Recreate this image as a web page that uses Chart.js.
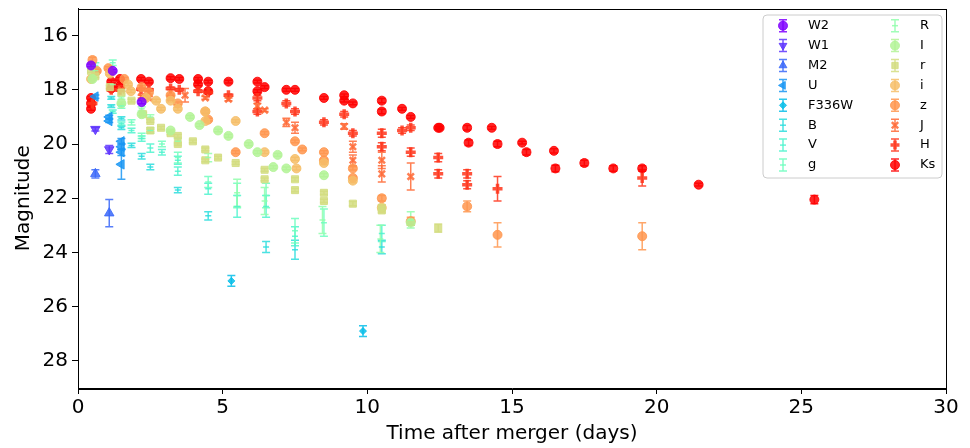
<!DOCTYPE html>
<html><head><meta charset="utf-8">
<script src="https://cdn.jsdelivr.net/npm/chart.js@4.4.1/dist/chart.umd.min.js"></script>
<style>html,body{margin:0;padding:0;background:#fff;}#wrap{width:970px;height:448px;position:relative}</style>
</head><body><div id="wrap"><canvas id="c" width="970" height="448"></canvas></div>
<script>
// ---------- DATA (days after merger, magnitude, 1-sigma error) ----------
const bandNames = ["W2","W1","M2","U","F336W","B","V","g","R","I","r","i","z","J","H","Ks"];
const xTicks = [0,5,10,15,20,25,30];
const yTicks = [16,18,20,22,24,26,28];

const W2_t=[0.45,1.2,2.2];        const W2_mag=[17.1,17.3,18.45];     const W2_err=[0.05,0.05,0.06];
const W1_t=[0.6,1.08];            const W1_mag=[19.45,20.2];          const W1_err=[0.07,0.15];
const M2_t=[0.6,1.08];            const M2_mag=[21.1,22.55];          const M2_err=[0.15,0.5];
const U_t=[0.6,1.08,1.08,1.5,1.5,1.5,1.5];
const U_mag=[18.25,19.0,19.15,19.9,20.1,20.3,20.75];
const U_err=[0.06,0.06,0.06,0.1,0.1,0.12,0.55];
const F336W_t=[5.3,9.85];         const F336W_mag=[25.05,26.9];       const F336W_err=[0.2,0.2];
const B_t=[1.15,1.15,1.5,1.5,1.85,2.2,2.5,3.45,4.5,6.5,7.5,10.5];
const B_mag=[18.3,18.6,19.05,19.4,20.05,20.45,20.85,21.7,22.65,23.8,23.9,23.8];
const B_err=[0.05,0.05,0.06,0.06,0.08,0.1,0.1,0.1,0.15,0.2,0.35,0.25];
const V_t=[1.2,1.5,1.85,2.2,2.5,2.9,3.45,3.45,4.5,5.5,6.5,7.5,10.5];
const V_mag=[18.8,19.25,19.5,19.8,20.15,20.3,20.6,21.0,21.65,22.3,22.3,23.4,23.3];
const V_err=[0.06,0.06,0.08,0.1,0.15,0.1,0.15,0.15,0.2,0.4,0.4,0.35,0.3];
const g_t=[0.6,1.2,1.5,1.85,2.2,2.5,2.9,3.45,4.5,5.5,6.5,7.5,8.5];
const g_mag=[17.1,17.0,18.6,19.2,19.7,19.5,20.0,20.5,21.4,21.9,21.9,23.2,22.9];
const g_err=[0.1,0.1,0.08,0.1,0.1,0.1,0.1,0.2,0.2,0.45,0.45,0.45,0.5];
const R_t=[0.6,1.2,1.5,2.2,2.5,3.45,4.5,5.5,6.45,8.45,10.45,11.5];
const R_mag=[17.3,17.8,18.3,18.7,19.0,19.9,20.5,21.8,22.1,22.8,23.5,22.8];
const R_err=[0.05,0.05,0.06,0.08,0.08,0.1,0.15,0.5,0.5,0.5,0.5,0.3];
const I_t=[0.5,1.5,2.2,3.2,3.87,4.2,4.84,5.2,5.9,6.2,6.75,6.9,7.2,8.5,11.5];
const I_mag=[17.6,18.5,18.9,19.5,19.0,19.3,19.5,19.7,20.0,20.3,20.85,20.4,20.9,21.15,22.9];
const I_err=[0.05,0.05,0.05,0.05,0.05,0.05,0.05,0.05,0.05,0.05,0.05,0.05,0.05,0.06,0.1];
const r_t=[0.45,0.6,1.1,1.5,1.85,2.25,2.5,2.5,2.87,3.2,3.45,3.45,3.97,4.4,4.4,4.84,5.45,6.45,6.45,7.5,7.5,8.5,8.5,9.5,10.5,10.5,12.45];
const r_mag=[17.3,17.5,17.9,18.1,18.4,18.9,19.15,19.5,19.4,19.6,19.7,20.0,19.9,20.2,20.6,20.5,20.7,20.95,21.3,21.3,21.7,21.8,22.1,22.2,22.35,22.45,23.1];
const r_err=[0.05,0.05,0.05,0.05,0.05,0.05,0.05,0.05,0.05,0.05,0.05,0.05,0.05,0.05,0.05,0.05,0.05,0.05,0.05,0.06,0.06,0.06,0.06,0.08,0.08,0.08,0.15];
const i_t=[0.45,1.1,1.73,1.83,2.35,2.7,2.87,3.2,3.45,4.4,4.4,5.45,6.45,7.5,7.55,8.5,9.5,10.5];
const i_mag=[17.6,17.4,17.8,18.05,18.3,18.4,18.7,18.4,18.7,18.8,19.15,19.15,20.3,20.55,20.9,20.7,21.35,22.35];
const i_err=[0.05,0.05,0.05,0.05,0.05,0.05,0.05,0.05,0.05,0.05,0.05,0.05,0.05,0.06,0.06,0.06,0.08,0.1];
const z_t=[0.5,0.65,1.05,1.6,2.2,2.45,3.2,3.45,4.4,4.5,5.45,6.45,7.5,7.75,8.5,8.5,9.5,9.5,10.5,11.5,13.45,14.5,19.5];
const z_mag=[16.9,17.3,17.2,17.6,17.9,18.1,18.2,18.5,18.8,19.1,20.3,19.6,19.9,20.2,20.3,20.6,20.9,21.25,22.0,22.85,22.3,23.35,23.4];
const z_err=[0.1,0.05,0.05,0.05,0.05,0.05,0.05,0.05,0.05,0.05,0.05,0.05,0.05,0.05,0.05,0.05,0.06,0.06,0.1,0.15,0.2,0.45,0.5];
const J_t=[1.5,2.2,2.45,3.2,3.7,4.4,5.2,6.2,6.45,7.2,7.5,9.2,9.5,9.5,10.5,10.5,11.5];
const J_mag=[18.0,18.25,18.3,18.3,18.2,18.3,18.35,18.6,18.75,19.2,19.4,19.35,20.1,20.6,20.6,21.1,21.2];
const J_err=[0.05,0.05,0.05,0.08,0.25,0.05,0.05,0.1,0.05,0.15,0.2,0.1,0.2,0.2,0.3,0.3,0.5];
const H_t=[0.5,1.15,1.45,2.18,2.45,3.2,3.5,4.15,4.5,5.2,6.2,6.2,7.2,7.5,8.5,9.2,9.5,10.5,10.5,11.2,11.5,11.5,12.45,12.45,13.45,13.45,14.5,19.5];
const H_mag=[18.5,18.0,18.0,17.98,18.0,17.95,18.0,18.05,18.1,18.2,18.3,18.8,18.5,18.8,19.2,18.9,19.6,19.6,20.1,19.5,19.4,20.3,20.5,21.1,21.1,21.5,21.65,21.25];
const H_err=[0.05,0.05,0.05,0.05,0.05,0.05,0.05,0.05,0.05,0.05,0.1,0.1,0.1,0.1,0.1,0.1,0.1,0.15,0.15,0.1,0.1,0.15,0.15,0.15,0.15,0.15,0.45,0.3];
const Ks_t=[0.45,0.45,0.45,1.15,1.15,1.45,1.45,2.18,2.45,3.2,3.5,4.15,4.15,4.5,4.5,5.2,6.2,6.45,6.2,7.2,7.5,8.5,9.2,9.2,9.5,10.5,10.5,11.2,11.5,12.45,12.5,13.45,13.5,14.3,14.5,15.35,15.5,16.45,16.5,17.5,18.5,19.5,21.45,25.45];
const Ks_mag=[18.3,18.5,18.7,17.7,17.95,17.6,17.85,17.6,17.7,17.57,17.6,17.6,17.8,17.7,18.05,17.7,17.7,17.9,18.05,18.0,18.0,18.3,18.2,18.4,18.5,18.4,18.8,18.7,19.0,19.4,19.4,19.4,19.95,19.4,20.0,19.95,20.3,20.25,20.9,20.7,20.9,20.9,21.5,22.05];
const Ks_err=[0.05,0.05,0.05,0.05,0.05,0.05,0.05,0.05,0.05,0.05,0.05,0.05,0.05,0.05,0.05,0.05,0.05,0.05,0.05,0.05,0.05,0.05,0.05,0.05,0.05,0.08,0.08,0.05,0.05,0.05,0.05,0.08,0.1,0.05,0.1,0.05,0.1,0.08,0.12,0.1,0.1,0.1,0.05,0.15];

// ---------- STYLE ----------
const bandColors = ["rgba(128,0,255,0.85)","rgba(94,53,254,0.85)","rgba(59,104,249,0.85)","rgba(26,150,243,0.85)","rgba(8,190,233,0.85)","rgba(43,221,221,0.85)","rgba(77,243,206,0.85)","rgba(110,254,190,0.85)","rgba(145,254,171,0.85)","rgba(179,243,150,0.85)","rgba(212,221,128,0.85)","rgba(246,190,104,0.85)","rgba(255,150,79,0.85)","rgba(255,104,53,0.85)","rgba(255,53,27,0.85)","rgba(255,0,0,0.85)"];
const bandStyle = [
 {s:'circle',r:4.5,rot:0,bw:1},{s:'triangle',r:5.5,rot:180,bw:1},{s:'triangle',r:5.5,rot:0,bw:1},{s:'triangle',r:5.5,rot:-90,bw:1},
 {s:'rectRot',r:3.5,rot:0,bw:1},{s:'line',r:3,rot:0,bw:1.5},{s:'line',r:3,rot:0,bw:1.5},{s:'line',r:3,rot:0,bw:1.5},
 {s:'line',r:3,rot:0,bw:1.5},{s:'circle',r:4.5,rot:0,bw:1},{s:'rect',r:5,rot:0,bw:1},{s:'circle',r:4.5,rot:0,bw:1},
 {s:'circle',r:4.5,rot:0,bw:1},{s:'crossRot',r:4.5,rot:0,bw:2.5},{s:'cross',r:5,rot:0,bw:3.5},{s:'circle',r:4.5,rot:0,bw:1}
];
const bandData = [[W2_t,W2_mag,W2_err],[W1_t,W1_mag,W1_err],[M2_t,M2_mag,M2_err],[U_t,U_mag,U_err],[F336W_t,F336W_mag,F336W_err],
 [B_t,B_mag,B_err],[V_t,V_mag,V_err],[g_t,g_mag,g_err],[R_t,R_mag,R_err],[I_t,I_mag,I_err],[r_t,r_mag,r_err],[i_t,i_mag,i_err],
 [z_t,z_mag,z_err],[J_t,J_mag,J_err],[H_t,H_mag,H_err],[Ks_t,Ks_mag,Ks_err]];

const datasets = bandNames.map((n,k)=>({
  label:n,
  data: bandData[k][0].map((t,j)=>({x:t,y:bandData[k][1][j]})),
  errors: bandData[k][2],
  pointStyle: bandStyle[k].s, pointRadius: bandStyle[k].r, pointRotation: bandStyle[k].rot,
  pointBorderWidth: bandStyle[k].bw,
  backgroundColor: bandColors[k], borderColor: bandColors[k], showLine:false
}));

const errorBars = {
  id:'errorBars',
  beforeDatasetsDraw(chart){
    const ctx=chart.ctx, xs=chart.scales.x, ys=chart.scales.y;
    ctx.save();
    chart.data.datasets.forEach((ds,di)=>{
      ctx.strokeStyle=ds.borderColor; ctx.lineWidth=1.5;
      ds.data.forEach((p,i)=>{
        const e=ds.errors[i];
        const x=xs.getPixelForValue(p.x), y1=ys.getPixelForValue(p.y-e), y2=ys.getPixelForValue(p.y+e);
        ctx.beginPath(); ctx.moveTo(x,y1); ctx.lineTo(x,y2);
        ctx.moveTo(x-4,y1); ctx.lineTo(x+4,y1); ctx.moveTo(x-4,y2); ctx.lineTo(x+4,y2); ctx.stroke();
      });
    });
    ctx.restore();
  }
};
const frame = {
  id:'frame',
  afterDraw(chart){
    const {ctx, chartArea:a}=chart;
    ctx.save(); ctx.strokeStyle='#000'; ctx.lineWidth=1;
    ctx.strokeRect(Math.round(a.left)+0.5,Math.round(a.top)+0.5,Math.round(a.right-a.left),Math.round(a.bottom-a.top));
    ctx.restore();
  }
};
const boxLegend = {
  id:'boxLegend',
  afterDraw(chart){
    const ctx=chart.ctx;
    ctx.save();
    const bx=763,by=15,bw=179,bh=163,rr=4;
    ctx.beginPath();
    ctx.moveTo(bx+rr,by);ctx.lineTo(bx+bw-rr,by);ctx.arcTo(bx+bw,by,bx+bw,by+rr,rr);
    ctx.lineTo(bx+bw,by+bh-rr);ctx.arcTo(bx+bw,by+bh,bx+bw-rr,by+bh,rr);
    ctx.lineTo(bx+rr,by+bh);ctx.arcTo(bx,by+bh,bx,by+bh-rr,rr);
    ctx.lineTo(bx,by+rr);ctx.arcTo(bx,by,bx+rr,by,rr);ctx.closePath();
    ctx.fillStyle='rgba(255,255,255,0.8)';ctx.fill();
    ctx.strokeStyle='#cccccc';ctx.lineWidth=1;ctx.stroke();
    chart.data.datasets.forEach((ds,k)=>{
      const col=k<8?0:1, row=k%8;
      const mx=col?895:783, y=25.7+row*19.9, tx=col?920:808;
      ctx.strokeStyle=ds.borderColor; ctx.fillStyle=ds.backgroundColor; ctx.lineWidth=1.5;
      ctx.beginPath();ctx.moveTo(mx,y-6);ctx.lineTo(mx,y+6);ctx.moveTo(mx-4,y-6);ctx.lineTo(mx+4,y-6);
      ctx.moveTo(mx-4,y+6);ctx.lineTo(mx+4,y+6);ctx.stroke();
      ctx.lineWidth=ds.pointBorderWidth;
      Chart.helpers.drawPoint(ctx,{pointStyle:ds.pointStyle,rotation:ds.pointRotation,radius:Math.min(ds.pointRadius,4.5),borderWidth:ds.pointBorderWidth},mx,y);
      ctx.fillStyle='#000';ctx.font='13px "DejaVu Sans"';ctx.textBaseline='middle';ctx.textAlign='left';
      ctx.fillText(ds.label,tx,y);
    });
    ctx.restore();
  }
};

Chart.defaults.font.family='"DejaVu Sans", sans-serif';
Chart.defaults.color='#000';
new Chart(document.getElementById('c'),{
  type:'scatter',
  data:{datasets},
  options:{
    responsive:false, animation:false, devicePixelRatio:1,
    layout:{padding:{top:7,right:24,left:0,bottom:0}},
    plugins:{legend:{display:false},tooltip:{enabled:false}},
    scales:{
      x:{type:'linear',min:0,max:30,
        afterBuildTicks:s=>{s.ticks=xTicks.map(v=>({value:v}));},
        afterFit:s=>{s.height=60;s.paddingLeft=0;s.paddingRight=0;},
        ticks:{font:{size:20},color:'#000',padding:2,maxRotation:0},
        grid:{display:true,drawOnChartArea:false,drawTicks:true,tickLength:6,color:'#000'},
        border:{display:true,color:'#000'},
        title:{display:true,text:'Time after merger (days)',font:{size:20},color:'#000',padding:{top:0,bottom:2}}},
      y:{type:'linear',min:15,max:29,reverse:true,
        afterBuildTicks:s=>{s.ticks=yTicks.map(v=>({value:v}));},
        afterFit:s=>{s.width=78;s.paddingTop=0;s.paddingBottom=0;},
        ticks:{font:{size:20},color:'#000',padding:4},
        grid:{display:true,drawOnChartArea:false,drawTicks:true,tickLength:6,color:'#000'},
        border:{display:true,color:'#000'},
        title:{display:true,text:'Magnitude',font:{size:20},color:'#000',padding:{top:12,bottom:0}}}
    }
  },
  plugins:[errorBars,frame,boxLegend]
});
</script></body></html>
